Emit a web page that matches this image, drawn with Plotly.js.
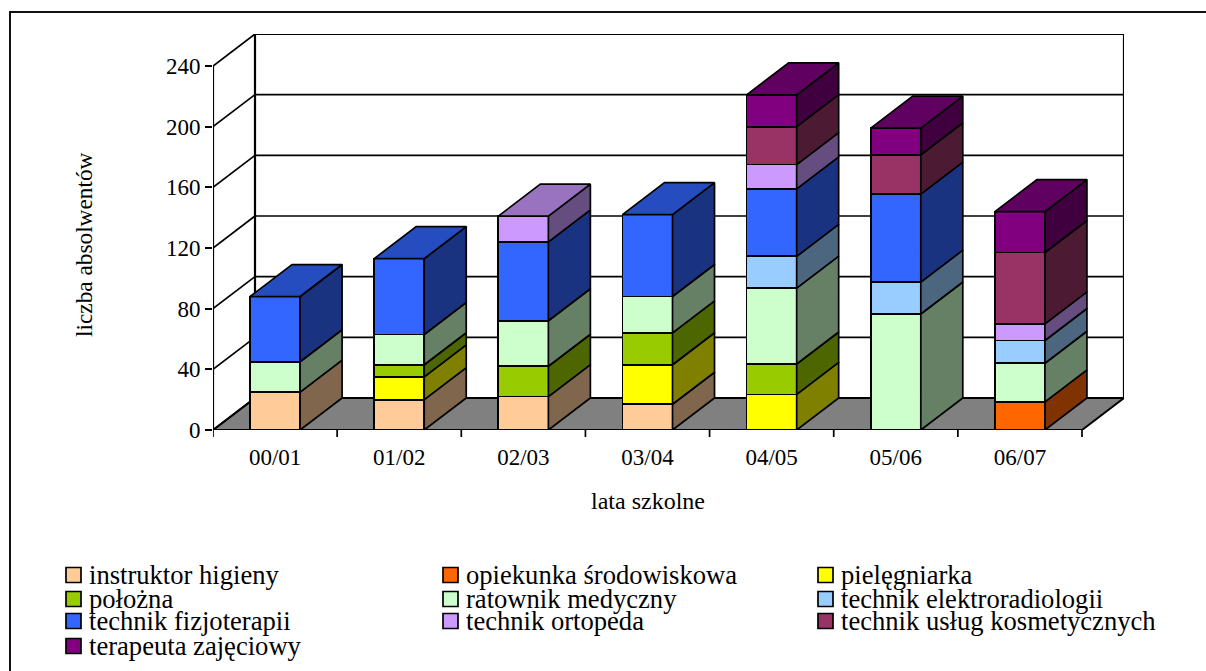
<!DOCTYPE html>
<html><head><meta charset="utf-8">
<script src="https://cdn.plot.ly/plotly-3.0.1.min.js"></script>
<style>html,body{margin:0;padding:0;background:#fff}</style>
</head><body><div id="chart"></div>
<script>
const categories = ["00/01","01/02","02/03","03/04","04/05","05/06","06/07"];
const names = ["instruktor higieny","opiekunka środowiskowa","pielęgniarka","położna","ratownik medyczny","technik elektroradiologii","technik fizjoterapii","technik ortopeda","technik usług kosmetycznych","terapeuta zajęciowy"];
const colors = ["#FFCC99","#FF6600","#FFFF00","#99CC00","#CCFFCC","#99CCFF","#3366FF","#CC99FF","#993366","#800080"];
const instruktor  = [25,20,22,17,null,null,null];
const opiekunka   = [null,null,null,null,null,null,18.5];
const pielegniarka= [null,15,null,26,23.5,null,null];
const polozna     = [null,8,20,21,20,null,null];
const ratownik    = [20,20,30,24,50,76.5,25.5];
const elektro     = [null,null,null,null,21,21,15];
const fizjo       = [43,50,52,54,44.5,58,null];
const ortopeda    = [null,null,17,null,16,null,11];
const kosmetyka   = [null,null,null,null,25,26,47];
const terapeuta   = [null,null,null,null,21,17.5,27];
const series = [instruktor,opiekunka,pielegniarka,polozna,ratownik,elektro,fizjo,ortopeda,kosmetyka,terapeuta];
const yTicks = [0,40,80,120,160,200,240];

const W=1206,H=671,L=213,R=1124,T=34,B=430;
const barW=0.403, depthX=42/124.14, depthY=32/1.5167;
const LW=1.7, serif='"Liberation Serif","Times New Roman",serif';
const shade=(hex,f)=>{const n=parseInt(hex.slice(1),16);
  return `rgb(${Math.round((n>>16&255)*f)},${Math.round((n>>8&255)*f)},${Math.round((n&255)*f)})`;};
const toPaperX=(x)=>(x-L)/(R-L), toPaperY=(y)=>(B-y)/(B-T);

const traces=[], tops=categories.map(()=>null), base=categories.map(()=>0);
series.forEach((vals,s)=>{
  traces.push({type:'bar',name:names[s],x:categories.map((_,i)=>i),y:vals,width:barW,
    marker:{color:colors[s],line:{color:'#000',width:LW}},showlegend:false,hoverinfo:'x+y+name'});
});
series.forEach((vals,s)=>{
  const xs=[],ys=[];
  vals.forEach((v,i)=>{
    if(v==null) return;
    const y0=base[i],y1=y0+v,x1=i+barW/2;
    xs.push(x1,x1+depthX,x1+depthX,x1,x1,null);
    ys.push(y0,y0+depthY,y1+depthY,y1,y0,null);
    base[i]=y1; tops[i]=s;
  });
  traces.push({type:'scatter',mode:'lines',x:xs,y:ys,fill:'toself',fillcolor:shade(colors[s],0.5),
    line:{color:'#000',width:LW},showlegend:false,hoverinfo:'skip',connectgaps:false});
});
series.forEach((vals,s)=>{
  const xs=[],ys=[];
  vals.forEach((v,i)=>{
    if(tops[i]!==s) return;
    const x0=i-barW/2,x1=i+barW/2,y=base[i];
    xs.push(x0,x1,x1+depthX,x0+depthX,x0,null);
    ys.push(y,y,y+depthY,y+depthY,y,null);
  });
  if(xs.length) traces.push({type:'scatter',mode:'lines',x:xs,y:ys,fill:'toself',fillcolor:shade(colors[s],0.75),
    line:{color:'#000',width:LW},showlegend:false,hoverinfo:'skip'});
});

const x0=-0.5,x1=categories.length-0.5;
const ln=(xa,ya,xb,yb,w)=>({type:'line',layer:'below',xref:'x',yref:'y',x0:xa,y0:ya,x1:xb,y1:yb,line:{color:'#000',width:w}});
const shapes=[];
shapes.push({type:'path',layer:'below',xref:'x',yref:'y',
  path:`M${x0},0L${x1},0L${x1+depthX},${depthY}L${x0+depthX},${depthY}Z`,fillcolor:'#808080',line:{color:'#000',width:2}});
yTicks.forEach(v=>{
  shapes.push(ln(x0+depthX,v+depthY,x1+depthX,v+depthY,v===240||v===0?2.2:1.7));
  shapes.push(ln(x0,v,x0+depthX,v+depthY,1.7));
});
shapes.push(ln(x0,0,x0,240,2.2));
shapes.push(ln(x0+depthX,depthY,x0+depthX,240+depthY,2.2));
shapes.push(ln(x1+depthX,depthY,x1+depthX,240+depthY,2.2));
shapes.push(ln(x0,0,x1,0,2.2));
categories.concat(['']).forEach((_,i)=>{
  shapes.push({type:'line',xref:'x',yref:'paper',x0:i-0.5,x1:i-0.5,y0:0,y1:-7/(B-T),line:{color:'#000',width:1.7}});
});
shapes.push({type:'rect',layer:'below',xref:'paper',yref:'paper',
  x0:toPaperX(10),x1:toPaperX(W+10),y0:toPaperY(H+10),y1:toPaperY(12),line:{color:'#111',width:2},fillcolor:'rgba(0,0,0,0)'});

const annotations=[
 {text:'lata szkolne',xref:'paper',yref:'paper',x:toPaperX(648),y:toPaperY(501),showarrow:false,xanchor:'center',yanchor:'middle',font:{family:serif,size:24,color:'#000'}},
 {text:'liczba absolwentów',xref:'paper',yref:'paper',x:toPaperX(84),y:toPaperY(245),textangle:-90,showarrow:false,xanchor:'center',yanchor:'middle',font:{family:serif,size:23.3,color:'#000'}}
];
const colX=[66,443,818], rowY=[575,599,621,646], sw=15;
names.forEach((n,i)=>{
  const c=i%3,r=Math.floor(i/3);
  const sx=colX[c],sy=rowY[r];
  shapes.push({type:'rect',xref:'paper',yref:'paper',x0:toPaperX(sx),x1:toPaperX(sx+sw),y0:toPaperY(sy+sw/2),y1:toPaperY(sy-sw/2),
    fillcolor:colors[i],line:{color:'#000',width:1.7}});
  annotations.push({text:n,xref:'paper',yref:'paper',x:toPaperX(sx+22),y:toPaperY(sy),showarrow:false,xanchor:'left',yanchor:'middle',
    font:{family:serif,size:26.6,color:'#000'},borderpad:0,bgcolor:'rgba(0,0,0,0)'});
});

const layout={width:W,height:H,margin:{l:L,r:W-R,t:T,b:H-B,pad:0},paper_bgcolor:'#fff',plot_bgcolor:'#fff',
  barmode:'stack',showlegend:false,hovermode:false,
  xaxis:{range:[x0,x1+depthX],tickvals:categories.map((_,i)=>i),ticktext:categories,ticks:'',showgrid:false,zeroline:false,showline:false,
    tickfont:{family:serif,size:23,color:'#000'},ticklabelstandoff:11,automargin:false,fixedrange:true},
  yaxis:{range:[0,240+depthY],tickvals:yTicks,ticks:'outside',ticklen:7,tickwidth:2,tickcolor:'#000',showgrid:false,zeroline:false,showline:false,
    tickfont:{family:serif,size:23,color:'#000'},automargin:false,fixedrange:true},
  shapes,annotations};
Plotly.newPlot('chart',traces,layout,{displayModeBar:false,staticPlot:true});
</script></body></html>
